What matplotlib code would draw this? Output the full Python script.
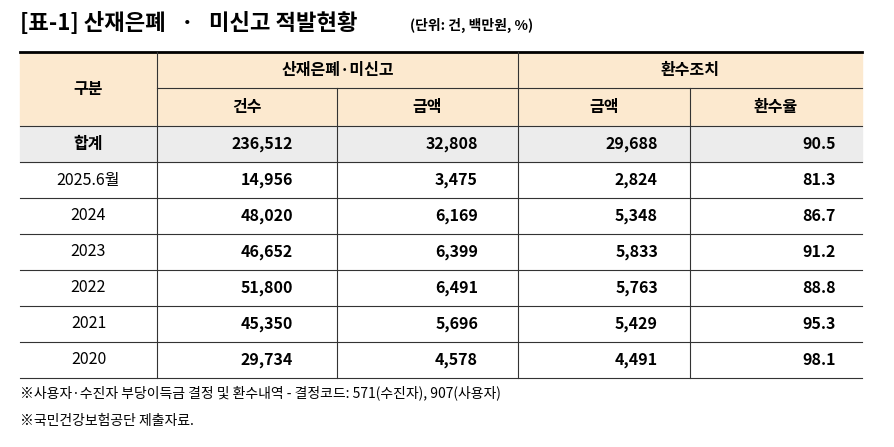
import matplotlib
matplotlib.use("Agg")
import matplotlib.pyplot as plt
from matplotlib.patches import Rectangle

plt.rcParams["font.family"] = "Noto Sans CJK KR"

title = "[표-1] 산재은폐   ·   미신고 적발현황"
unit = "(단위: 건, 백만원, %)"
group_headers = ["산재은폐·미신고", "환수조치"]
sub_headers = ["건수", "금액", "금액", "환수율"]
row_labels = ["합계", "2025.6월", "2024", "2023", "2022", "2021", "2020"]
cases = ["236,512", "14,956", "48,020", "46,652", "51,800", "45,350", "29,734"]
amount = ["32,808", "3,475", "6,169", "6,399", "6,491", "5,696", "4,578"]
recovered = ["29,688", "2,824", "5,348", "5,833", "5,763", "5,429", "4,491"]
rate = ["90.5", "81.3", "86.7", "91.2", "88.8", "95.3", "98.1"]
notes = ["※사용자·수진자 부당이득금 결정 및 환수내역 - 결정코드: 571(수진자), 907(사용자)",
         "※국민건강보험공단 제출자료."]

W, H = 895, 447
fig = plt.figure(figsize=(W/100, H/100), dpi=100)
ax = fig.add_axes([0, 0, 1, 1])
ax.set_xlim(0, W); ax.set_ylim(H, 0); ax.axis("off")

cols = [20, 157, 337, 518, 690, 862]
top, mid, hbot = 52, 88, 126
rh = 36
rows_y = [hbot + i*rh for i in range(len(row_labels)+1)]

ax.text(20, 23, title, fontsize=16, fontweight="bold", va="center")
ax.text(410, 25, unit, fontsize=10, fontweight="bold", va="center")

ax.add_patch(Rectangle((cols[0], top), cols[-1]-cols[0], hbot-top, color="#fce9cf", zorder=0))
ax.add_patch(Rectangle((cols[0], rows_y[0]), cols[-1]-cols[0], rh, color="#ececec", zorder=0))

ax.plot([cols[0], cols[-1]], [top, top], color="black", lw=2)
ax.plot([cols[1], cols[-1]], [mid, mid], color="#333333", lw=0.8)
for y in rows_y:
    ax.plot([cols[0], cols[-1]], [y, y], color="#333333", lw=0.8)
for i, x in enumerate(cols[1:-1], start=1):
    y0 = mid if i in (2, 4) else top
    ax.plot([x, x], [y0, rows_y[-1]], color="#333333", lw=0.8)

ax.text((cols[0]+cols[1])/2, (top+hbot)/2, "구분", ha="center", va="center", fontsize=11.5, fontweight="bold")
ax.text((cols[1]+cols[3])/2, (top+mid)/2, group_headers[0], ha="center", va="center", fontsize=11.5, fontweight="bold")
ax.text((cols[3]+cols[5])/2, (top+mid)/2, group_headers[1], ha="center", va="center", fontsize=11.5, fontweight="bold")
for j, s in enumerate(sub_headers):
    ax.text((cols[j+1]+cols[j+2])/2, (mid+hbot)/2, s, ha="center", va="center", fontsize=11.5, fontweight="bold")

rights = [293, 478, 658, 836]
for i, lab in enumerate(row_labels):
    yc = rows_y[i] + rh/2
    ax.text((cols[0]+cols[1])/2, yc, lab, ha="center", va="center", fontsize=11.5,
            fontweight="bold" if i == 0 else "normal")
    for j, series in enumerate([cases, amount, recovered, rate]):
        ax.text(rights[j], yc, series[i], ha="right", va="center", fontsize=11.5, fontweight="bold")

ax.text(20, 393, notes[0], fontsize=10, va="center")
ax.text(20, 421, notes[1], fontsize=10, va="center")

fig.savefig("out.png", dpi=100, facecolor="white")
